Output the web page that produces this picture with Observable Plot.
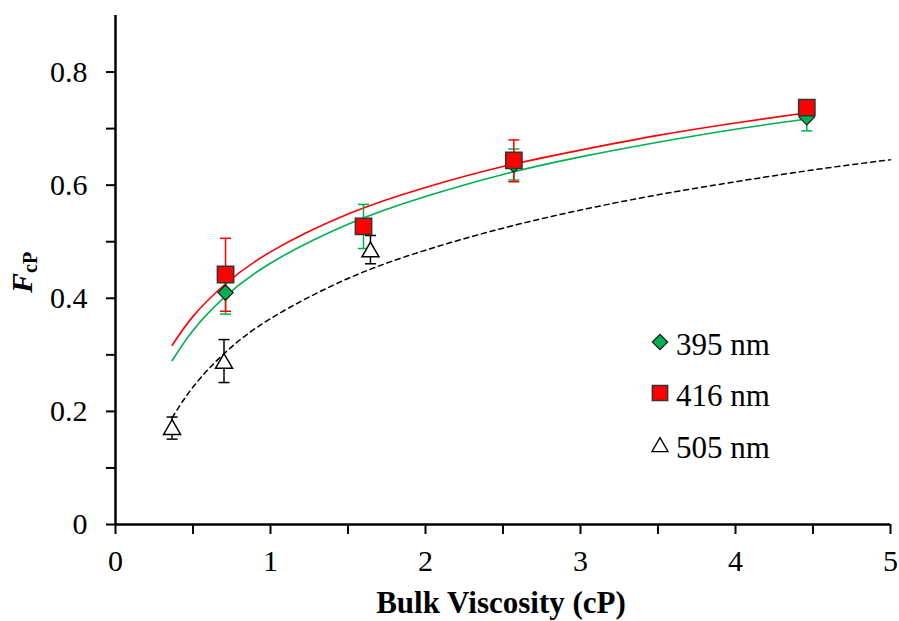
<!DOCTYPE html>
<html><head><meta charset="utf-8">
<script src="https://cdn.jsdelivr.net/npm/d3@7"></script>
<script src="https://cdn.jsdelivr.net/npm/@observablehq/plot@0.6"></script>
<style>body{margin:0;background:#fff}#chart{position:relative;width:899px;height:621px}</style>
</head><body><div id="chart"></div>
<script>
// Series: 395 nm (green diamonds)
const x395 = [0.71, 1.60, 2.57, 4.46];
const y395 = [0.410, 0.527, 0.636, 0.720];
const lo395 = [0.372, 0.488, 0.609, 0.696];
const hi395 = [0.448, 0.566, 0.664, 0.744];
// Series: 416 nm (red squares)
const x416 = [0.71, 1.60, 2.57, 4.46];
const y416 = [0.442, 0.527, 0.644, 0.737];
const lo416 = [0.377, 0.515, 0.606, 0.727];
const hi416 = [0.506, 0.539, 0.680, 0.747];
// Series: 505 nm (open triangles)
const x505 = [0.365, 0.70, 1.645];
const y505 = [0.168, 0.285, 0.482];
const lo505 = [0.151, 0.251, 0.461];
const hi505 = [0.190, 0.327, 0.511];
// Fitted curves
const fitX416 = [0.366, 0.5, 0.7, 1.0, 1.5, 2.0, 2.5, 3.0, 3.5, 4.0, 4.46];
const fitY416 = [0.317, 0.368, 0.423, 0.482, 0.549, 0.596, 0.633, 0.662, 0.688, 0.710, 0.728];
const fitX395 = [0.366, 0.5, 0.7, 1.0, 1.5, 2.0, 2.5, 3.0, 3.5, 4.0, 4.46];
const fitY395 = [0.290, 0.343, 0.401, 0.462, 0.531, 0.580, 0.619, 0.650, 0.676, 0.699, 0.717];
const fitX505 = [0.366, 0.5, 0.7, 1.0, 1.5, 2.0, 2.5, 3.0, 3.5, 4.0, 4.5, 5.0];
const fitY505 = [0.189, 0.243, 0.302, 0.364, 0.435, 0.485, 0.524, 0.556, 0.583, 0.606, 0.627, 0.645];
// Ticks
const xTicks = [0, 1, 2, 3, 4, 5];
const xMinor = [0.5, 1.5, 2.5, 3.5, 4.5];
const yTicks = [0, 0.2, 0.4, 0.6, 0.8];
const yMinor = [0.1, 0.3, 0.5, 0.7];
const legendLabels = ["395 nm", "416 nm", "505 nm"];

const GREEN = "#00B050", RED = "#FF0000";
const pts = (xs, ys, lo, hi) => xs.map((x, i) => ({x, y: ys[i], lo: lo[i], hi: hi[i]}));
const fit = (xs, ys) => xs.map((x, i) => ({x, y: ys[i]}));
const d395 = pts(x395, y395, lo395, hi395);
const d416 = pts(x416, y416, lo416, hi416);
const d505 = pts(x505, y505, lo505, hi505);
const cap = {draw(ctx){ ctx.moveTo(-5.5, 0); ctx.lineTo(5.5, 0); }};
const FONT = "'Liberation Serif', 'Times New Roman', serif";

function errMarks(d, color) {
  return [
    Plot.ruleX(d, {x: "x", y1: "lo", y2: "hi", stroke: color, strokeWidth: 1.5}),
    Plot.dot(d, {x: "x", y: "lo", symbol: cap, r: 5, fill: "none", stroke: color, strokeWidth: 1.5}),
    Plot.dot(d, {x: "x", y: "hi", symbol: cap, r: 5, fill: "none", stroke: color, strokeWidth: 1.5})
  ];
}

const plot = Plot.plot({
  width: 899, height: 621,
  marginLeft: 115, marginRight: 9, marginTop: 15, marginBottom: 97,
  style: {fontFamily: FONT, fontSize: "30px", color: "#000", background: "#fff"},
  x: {domain: [0, 5]},
  y: {domain: [0, 0.9]},
  marks: [
    Plot.axisX({ticks: xTicks, tickSize: 10, tickPadding: 15, fontSize: 30, fontFamily: FONT, label: null, strokeWidth: 2, tickFormat: d => String(d)}),
    Plot.axisX({ticks: xMinor, tickSize: 10, label: null, strokeWidth: 2, tickFormat: () => ""}),
    Plot.axisY({ticks: yTicks, tickSize: 9, tickPadding: 19, fontSize: 30, fontFamily: FONT, label: null, strokeWidth: 2, tickFormat: d => d === 0 ? "0" : d.toFixed(1)}),
    Plot.axisY({ticks: yMinor, tickSize: 9, label: null, strokeWidth: 2, tickFormat: () => ""}),
    Plot.line(fit(fitX505, fitY505), {x: "x", y: "y", curve: "natural", stroke: "#000", strokeWidth: 1.5, strokeDasharray: "5,4"}),
    Plot.line(fit(fitX395, fitY395), {x: "x", y: "y", curve: "natural", stroke: GREEN, strokeWidth: 1.6}),
    Plot.line(fit(fitX416, fitY416), {x: "x", y: "y", curve: "natural", stroke: RED, strokeWidth: 1.6}),
    ...errMarks(d505, "#000"),
    ...errMarks(d395, GREEN),
    ...errMarks(d416, RED),
    Plot.dot(d505, {x: "x", y: "y", symbol: "triangle", r: 6.3, fill: "#fff", stroke: "#000", strokeWidth: 1.5}),
    Plot.dot(d395, {x: "x", y: "y", symbol: "diamond2", r: 6.9, fill: GREEN, stroke: "#1a1a1a", strokeWidth: 1.2}),
    Plot.dot(d416, {x: "x", y: "y", symbol: "square", r: 9.2, fill: RED, stroke: "#333", strokeWidth: 1.5}),
    Plot.ruleY([0], {stroke: "#000", strokeWidth: 2.5}),
    Plot.ruleX([0], {stroke: "#000", strokeWidth: 2.5})
  ]
});
document.getElementById("chart").appendChild(plot);

const svg = d3.select(plot);
// x label
svg.append("text").attr("x", 501).attr("y", 613).attr("text-anchor", "middle")
  .attr("font-family", FONT).attr("font-size", 31).attr("font-weight", "bold").attr("fill", "#000")
  .text("Bulk Viscosity (cP)");
// y label F_cP
const yl = svg.append("text").attr("transform", "translate(32,293) rotate(-90)")
  .attr("text-anchor", "start")
  .attr("font-family", FONT).attr("font-weight", "bold").attr("fill", "#000");
yl.append("tspan").attr("font-style", "italic").attr("font-size", 30).text("F");
yl.append("tspan").attr("font-size", 20).attr("dy", 5).text("cP");
// legend
const lg = svg.append("g").attr("font-family", FONT).attr("font-size", 31).attr("fill", "#000").attr("text-anchor", "start");
const ly = [342, 393, 445];
const syms = [
  {t: d3.symbolDiamond2, s: Math.PI * 6.9 * 6.9, fill: GREEN, stroke: "#1a1a1a", sw: 1.2},
  {t: d3.symbolSquare, s: Math.PI * 8.6 * 8.6, fill: RED, stroke: "#333", sw: 1.5},
  {t: d3.symbolTriangle, s: Math.PI * 6.0 * 6.0, fill: "#fff", stroke: "#000", sw: 1.3}
];
legendLabels.forEach((lab, i) => {
  lg.append("path").attr("d", d3.symbol(syms[i].t, syms[i].s)())
    .attr("transform", `translate(660,${ly[i] + (i === 2 ? 2 : 0)})`)
    .attr("fill", syms[i].fill).attr("stroke", syms[i].stroke).attr("stroke-width", syms[i].sw);
  lg.append("text").attr("x", 676).attr("y", ly[i] + 13).attr("text-anchor", "start").text(lab);
});
</script></body></html>
